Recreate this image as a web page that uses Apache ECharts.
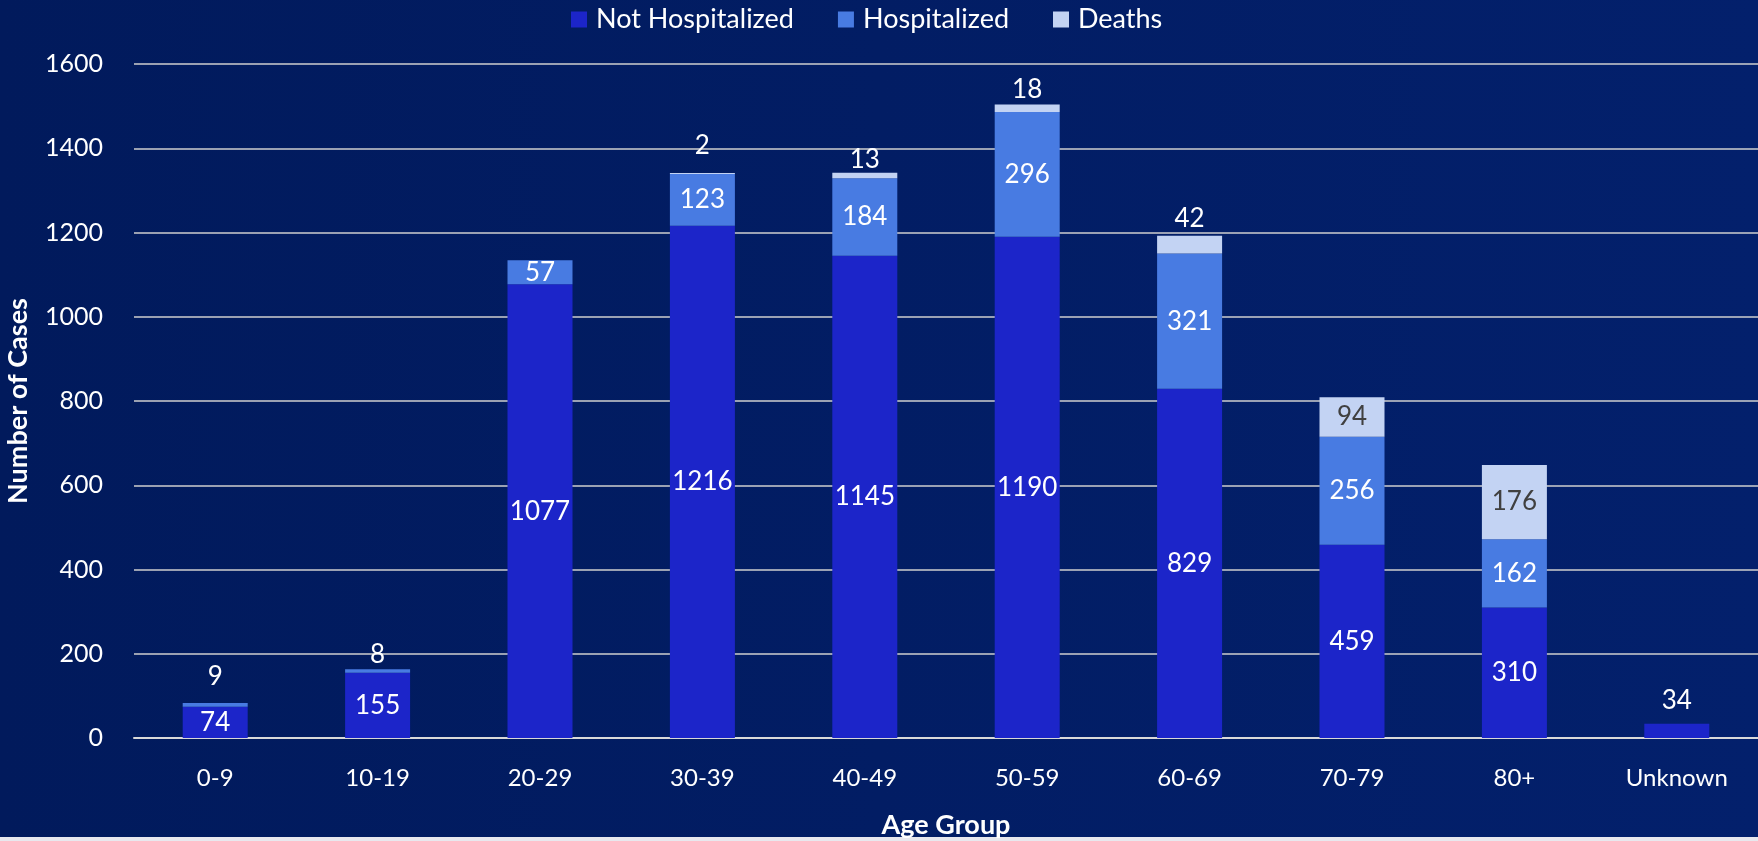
<!DOCTYPE html>
<html>
<head>
<meta charset="utf-8">
<script src="https://cdn.jsdelivr.net/npm/echarts@6/dist/echarts.min.js"></script>
<style>
html,body{margin:0;padding:0;background:#011b5f;}
#chart{width:1758px;height:841px;}
</style>
</head>
<body>
<div id="chart"></div>
<script>
// ---- data ----
var categories = ['0-9','10-19','20-29','30-39','40-49','50-59','60-69','70-79','80+','Unknown'];
var notHospitalized = [74, 155, 1077, 1216, 1145, 1190, 829, 459, 310, 34];
var hospitalized    = [9, 8, 57, 123, 184, 296, 321, 256, 162, 0];
var deaths          = [0, 0, 0, 2, 13, 18, 42, 94, 176, 0];
var yTicks = [0, 200, 400, 600, 800, 1000, 1200, 1400, 1600];

// label placement tweaks (category index -> distance above segment)
var nhTopLabels = {9: 10};
var hTopLabels = {0: 13, 1: 2};
var dTopLabels = {3: 14, 4: 0, 5: 2, 6: 4};
var dDarkLabels = {7: true, 8: true};

var FONT = 'Lato';

function build(values, topMap, darkMap) {
  return values.map(function (v, i) {
    var item = {value: v};
    if (topMap && topMap.hasOwnProperty(i)) {
      item.label = {position: 'top', distance: topMap[i]};
    } else if (darkMap && darkMap[i]) {
      item.label = {color: '#404040'};
    }
    return item;
  });
}

var labelBase = {
  show: true,
  position: 'inside',
  color: '#ffffff',
  fontFamily: FONT,
  fontSize: 26,
  formatter: function (p) { return p.value ? String(p.value) : ''; }
};

var chart = echarts.init(document.getElementById('chart'), null, {renderer: 'canvas'});
chart.setOption({
  backgroundColor: {
    type: 'linear', x: 0, y: 0, x2: 1, y2: 0,
    colorStops: [{offset: 0, color: '#011a5c'}, {offset: 1, color: '#03206c'}]
  },
  textStyle: {fontFamily: FONT},
  legend: {
    left: 566, top: 1,
    itemWidth: 16, itemHeight: 16, itemGap: 44,
    icon: 'rect',
    textStyle: {color: '#ffffff', fontSize: 27, fontFamily: FONT, padding: [0, 0, 0, 4]},
    data: ['Not Hospitalized', 'Hospitalized', 'Deaths']
  },
  grid: {left: 134, right: 0, top: 64, bottom: 103, containLabel: false, outerBoundsMode: 'none'},
  xAxis: {
    type: 'category',
    data: categories,
    name: 'Age Group',
    nameLocation: 'middle',
    nameGap: 74,
    nameTextStyle: {color: '#ffffff', fontSize: 27, fontWeight: 'bold', fontFamily: FONT},
    axisLine: {show: true, lineStyle: {color: '#d9d9d9', width: 2}},
    axisTick: {show: false},
    axisLabel: {color: '#ffffff', fontSize: 24, margin: 28, fontFamily: FONT}
  },
  yAxis: {
    type: 'value',
    min: 0, max: 1600, interval: 200,
    name: 'Number of Cases',
    nameLocation: 'middle',
    nameGap: 102,
    nameTextStyle: {color: '#ffffff', fontSize: 27, fontWeight: 'bold', fontFamily: FONT},
    axisLine: {show: false},
    axisTick: {show: false},
    axisLabel: {
      color: '#ffffff', fontSize: 25, margin: 31, fontFamily: FONT,
      formatter: function (v) { return yTicks.indexOf(v) >= 0 ? String(v) : ''; }
    },
    splitLine: {show: true, lineStyle: {color: '#cfcfcf', width: 1.5}}
  },
  series: [
    {
      name: 'Not Hospitalized', type: 'bar', stack: 'total', barWidth: 65,
      itemStyle: {color: '#1c25c9'},
      label: labelBase,
      data: build(notHospitalized, nhTopLabels)
    },
    {
      name: 'Hospitalized', type: 'bar', stack: 'total', barWidth: 65,
      itemStyle: {color: '#487be2'},
      label: labelBase,
      data: build(hospitalized, hTopLabels)
    },
    {
      name: 'Deaths', type: 'bar', stack: 'total', barWidth: 65,
      itemStyle: {color: '#c3d3f3'},
      label: labelBase,
      data: build(deaths, dTopLabels, dDarkLabels)
    }
  ],
  graphic: [{
    type: 'rect', left: 0, bottom: 0,
    shape: {width: 1758, height: 4},
    style: {fill: '#e8e8ee'}, silent: true
  }]
});
</script>
</body>
</html>
